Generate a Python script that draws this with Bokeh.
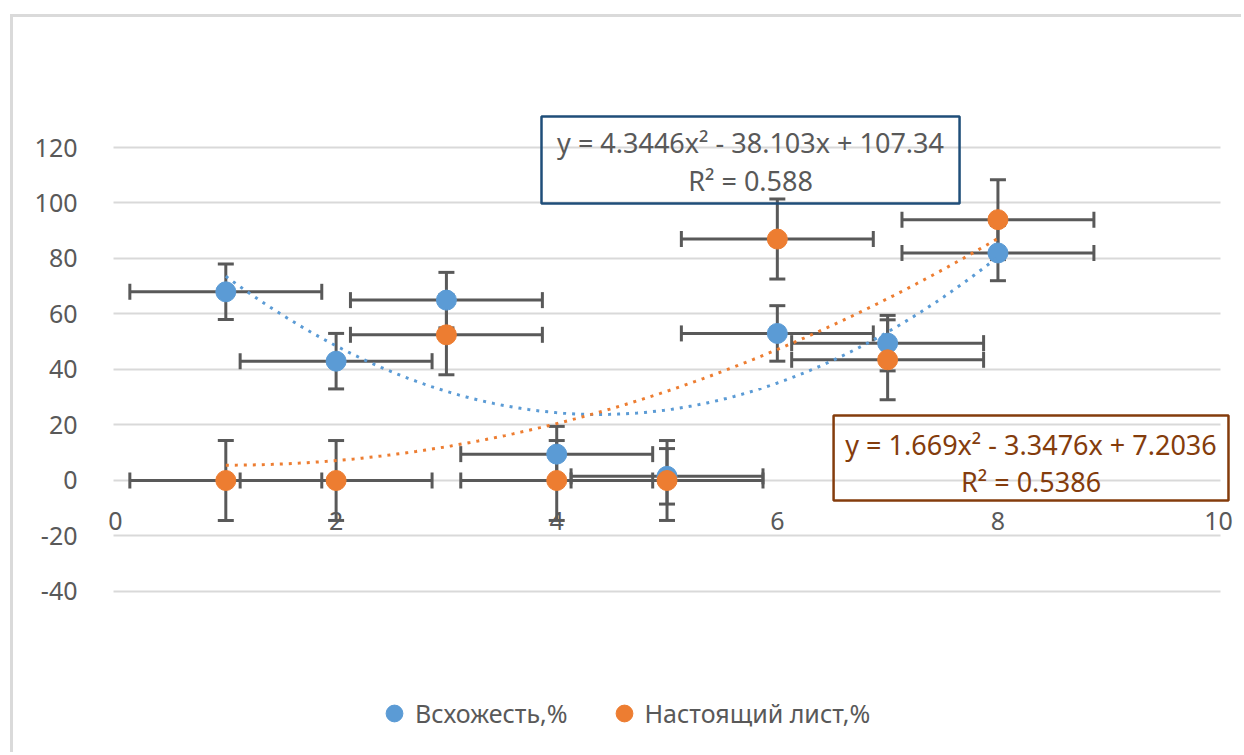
import numpy as np
from bokeh.plotting import figure
from bokeh.models import (Whisker, ColumnDataSource, Label, Legend, LegendItem,
                          FixedTicker, TeeHead, Range1d, BoxAnnotation)
from bokeh.embed import file_html
from bokeh.resources import INLINE

# ---------------- data ----------------
x_vals = [1, 2, 3, 4, 5, 6, 7, 8]
germination = [68, 43, 65, 9.5, 1.5, 53, 49.5, 82]      # Всхожесть,%
true_leaf = [0, 0, 52.5, 0, 0, 87, 43.5, 94]            # Настоящий лист,%
germination_err = 10.0
true_leaf_err = 14.4
x_err = 0.87

germination_coef = [4.3446, -38.103, 107.34]
true_leaf_coef = [1.669, -3.3476, 7.2036]
germination_eq = ["y = 4.3446x² - 38.103x + 107.34", "R² = 0.588"]
true_leaf_eq = ["y = 1.669x² - 3.3476x + 7.2036", "R² = 0.5386"]

series_names = ["Всхожесть,%", "Настоящий лист,%"]
y_ticks = [-40, -20, 0, 20, 40, 60, 80, 100, 120]
y_tick_labels = ["-40", "-20", "0", "20", "40", "60", "80", "100", "120"]
x_ticks = [0, 2, 4, 6, 8, 10]
x_tick_labels = ["0", "2", "4", "6", "8", "10"]

# ---------------- style ----------------
FONT = "Noto Sans"
GRAY = "#595959"
BLUE = "#5B9BD5"
ORANGE = "#ED7D31"
BROWN = "#843C0C"
NAVY = "#1F4E79"
GRID = "#D9D9D9"

p = figure(width=1231, height=738, output_backend="svg", toolbar_location=None,
           x_range=Range1d(-0.136, 10.199), y_range=Range1d(-98.02, 139.82),
           x_axis_type=None, min_border_left=87, min_border_right=4,
           min_border_top=75, min_border_bottom=3)
p.styles = {"margin-left": "10px", "margin-top": "14px",
            "border-left": "3px solid #dadada", "border-top": "3px solid #dadada"}
p.outline_line_color = None

p.ygrid.ticker = FixedTicker(ticks=y_ticks)
p.ygrid.grid_line_color = GRID
p.ygrid.grid_line_width = 2
if "cross_bounds" in p.ygrid[0].properties():
    p.ygrid.cross_bounds = (-0.02, 10.02)
p.yaxis.ticker = FixedTicker(ticks=y_ticks)
p.yaxis.major_label_overrides = dict(zip(y_ticks, y_tick_labels))
p.yaxis.axis_line_color = None
p.yaxis.major_tick_line_color = None
p.yaxis.minor_tick_line_color = None
p.yaxis.major_label_standoff = 17
p.yaxis.major_label_text_font = FONT
p.yaxis.major_label_text_font_size = "25px"
p.yaxis.major_label_text_color = GRAY

# x tick labels along the y = 0 axis line (Excel style)
for t, lab in zip(x_ticks, x_tick_labels):
    p.add_layout(Label(x=t, y=0, text=lab, text_align="center", text_baseline="middle",
                       y_offset=-41, text_font=FONT, text_font_size="25px",
                       text_color=GRAY))

renderers = []
for vals, err, color in [(germination, germination_err, BLUE),
                         (true_leaf, true_leaf_err, ORANGE)]:
    src = ColumnDataSource(dict(
        x=x_vals, y=vals,
        ylo=[v - err for v in vals], yhi=[v + err for v in vals],
        xlo=[x - x_err for x in x_vals], xhi=[x + x_err for x in x_vals]))
    for dim, base, lo, hi in [("height", "x", "ylo", "yhi"), ("width", "y", "xlo", "xhi")]:
        w = Whisker(source=src, base=base, lower=lo, upper=hi, dimension=dim,
                    line_color=GRAY, line_width=3, level="underlay",
                    upper_head=TeeHead(size=16, line_color=GRAY, line_width=3),
                    lower_head=TeeHead(size=16, line_color=GRAY, line_width=3))
        p.add_layout(w)
    r = p.scatter("x", "y", source=src, size=20, fill_color=color, line_color=color)
    renderers.append(r)

# polynomial trendlines from the displayed equations
xt = np.linspace(x_vals[0], x_vals[-1], 200)
for coef, color in [(germination_coef, BLUE), (true_leaf_coef, ORANGE)]:
    p.line(xt, np.polyval(coef, xt), line_color=color, line_width=3, line_dash="3 6")

# trendline equation boxes
p.add_layout(BoxAnnotation(left=3.862, right=7.652, top=131.2, bottom=99.8,
                           fill_alpha=0, line_color=NAVY, line_alpha=1, line_width=2.5))
p.add_layout(BoxAnnotation(left=6.51, right=10.09, top=23.4, bottom=-7.2,
                           fill_alpha=0, line_color=BROWN, line_alpha=1, line_width=2.5))
for (cx, cy1, cy2), lines, tc in [((5.757, 121.8, 108.1), germination_eq, GRAY),
                                  ((8.30, 13.0, -0.4), true_leaf_eq, BROWN)]:
    for cy, txt in zip((cy1, cy2), lines):
        p.add_layout(Label(x=cx, y=cy, text=txt, text_align="center",
                           text_baseline="middle", text_font=FONT,
                           text_font_size="27px", text_color=tc))

legend = Legend(items=[LegendItem(label=series_names[0], renderers=[renderers[0]]),
                       LegendItem(label=series_names[1], renderers=[renderers[1]])],
                orientation="horizontal", location=(273, 18),
                border_line_color=None, background_fill_alpha=0, padding=0, margin=0,
                spacing=35, label_standoff=0, glyph_width=42, glyph_height=42,
                label_text_font=FONT, label_text_font_size="25px", label_text_color=GRAY)
p.add_layout(legend)

open("out.html", "w").write(file_html(p, INLINE))
